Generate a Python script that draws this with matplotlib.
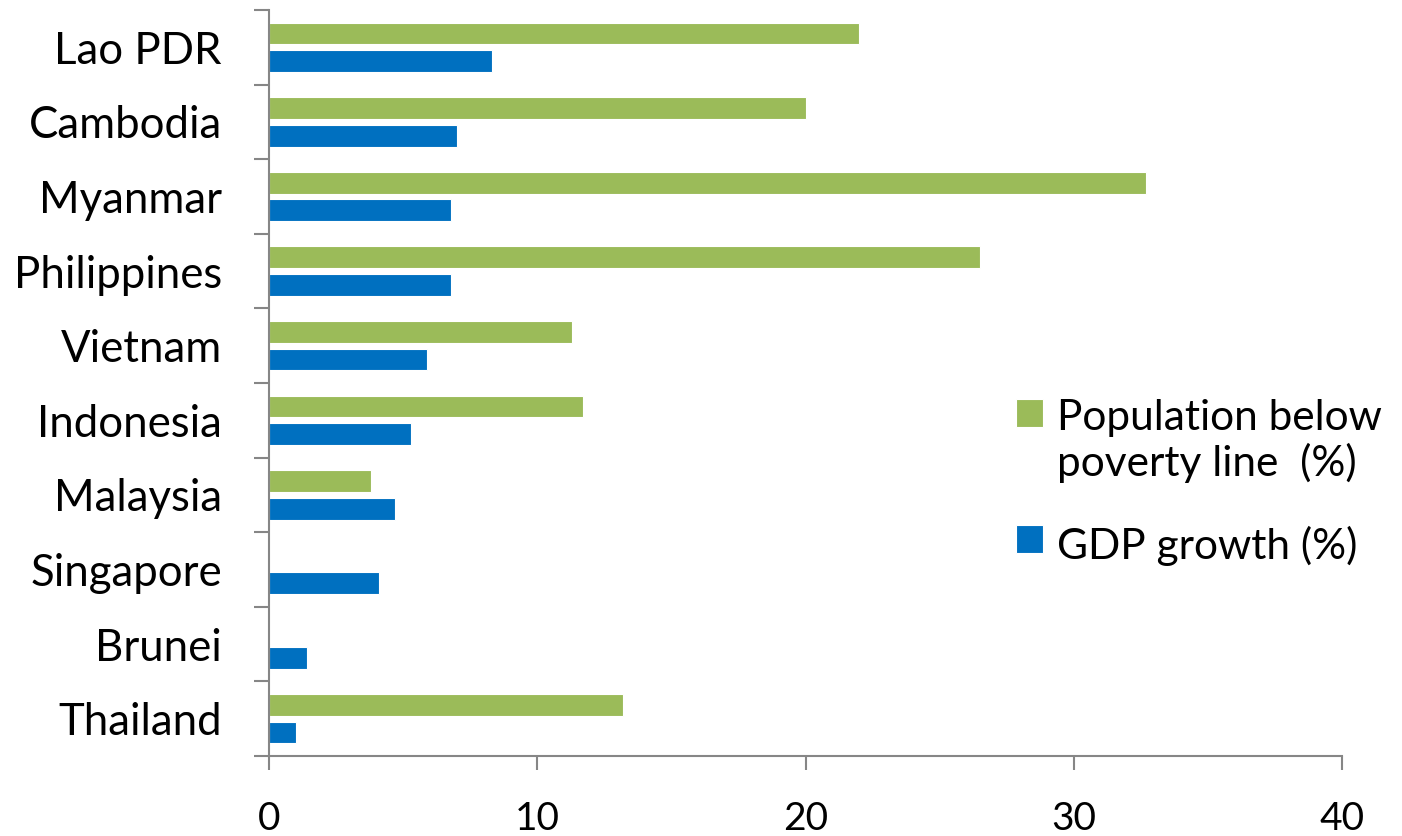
import matplotlib
matplotlib.use('Agg')
import matplotlib.pyplot as plt
import numpy as np

plt.rcParams['font.family'] = ['Lato', 'DejaVu Sans']

# data, top to bottom
countries = ['Lao PDR', 'Cambodia', 'Myanmar', 'Philippines', 'Vietnam',
             'Indonesia', 'Malaysia', 'Singapore', 'Brunei', 'Thailand']
poverty = [22.0, 20.0, 32.7, 26.5, 11.3, 11.7, 3.8, 0, 0, 13.2]
gdp = [8.3, 7.0, 6.8, 6.8, 5.9, 5.3, 4.7, 4.1, 1.4, 1.0]

green = '#9BBB59'
blue = '#0070C0'
axcol = '#868686'

fig = plt.figure(figsize=(14.02, 8.36), dpi=100)
ax = fig.add_axes([269 / 1402, 80 / 836, (1342 - 269) / 1402, (756 - 10) / 836])

y = np.arange(len(countries))
h = 0.29
ax.barh(y - 0.185, poverty, height=h, color=green, edgecolor='white', linewidth=0.8,
        label='Population below\npoverty line  (%)')
ax.barh(y + 0.185, gdp, height=h, color=blue, edgecolor='white', linewidth=0.8,
        label='GDP growth (%)')

ax.set_xlim(0, 40)
ax.set_ylim(len(countries) - 0.5, -0.5)
ax.set_xticks([0, 10, 20, 30, 40])
ax.set_yticks(y)
ax.set_yticklabels(countries)
ax.set_yticks(np.arange(-0.5, len(countries)), minor=True)

for s in ['top', 'right']:
    ax.spines[s].set_visible(False)
for s in ['left', 'bottom']:
    ax.spines[s].set_color(axcol)
    ax.spines[s].set_linewidth(1.5)

ax.tick_params(axis='y', which='major', length=0, pad=34, labelsize=31.5)
ax.tick_params(axis='y', which='minor', length=11, width=1.5, color=axcol)
ax.tick_params(axis='x', length=10, width=1.5, color=axcol, pad=22.5, labelsize=28)

leg = ax.legend(loc='upper left', bbox_to_anchor=(1016 / 1402, 1 - 399 / 836),
                bbox_transform=fig.transFigure, frameon=False, fontsize=30.5,
                handlelength=0.64, handleheight=0.64, handletextpad=0.33,
                labelspacing=1.0, borderpad=0, borderaxespad=0)
for t in leg.get_texts():
    t.set_linespacing(1.18)
# square next to the first line of each label, as in the original
for col in leg._legend_handle_box.get_children():
    for hp in col.get_children():
        hp.align = 'top'

fig.savefig('out.png', dpi=100)
